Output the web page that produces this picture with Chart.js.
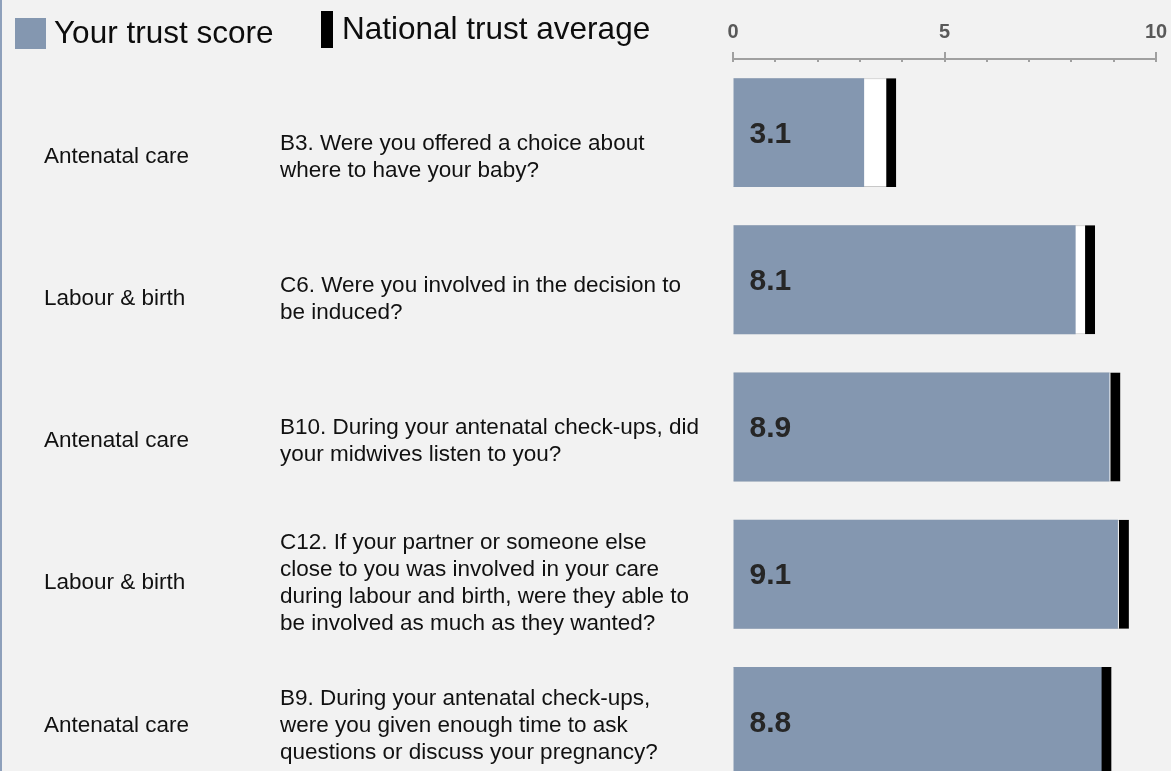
<!DOCTYPE html>
<html>
<head>
<meta charset="utf-8">
<title>Trust score vs national average</title>
<script src="https://cdn.jsdelivr.net/npm/chart.js@4.4.1/dist/chart.umd.min.js"></script>
<style>
    html, body {
        margin: 0;
        padding: 0;
        background: #f2f2f2;
        overflow: hidden;
    }
    body {
        width: 1171px;
        height: 771px;
        position: relative;
        font-family: "Liberation Sans", Arial, sans-serif;
    }
    #profitChart {
        position: absolute;
        left: 0;
        top: 0;
    }
    .edge {
        position: absolute;
        left: 0;
        top: 0;
        width: 2px;
        height: 771px;
        background: #8ea0bb;
    }
    .legend-swatch {
        position: absolute;
    }
    .legend-text {
        position: absolute;
        font-size: 31.5px;
        line-height: 1;
        color: #0d0d0d;
        white-space: nowrap;
    }
</style>
</head>
<body>
<canvas id="profitChart" width="1171" height="795"></canvas>
<div class="edge"></div>
<div class="legend-swatch" style="left:15px; top:18px; width:31px; height:31px; background:#8497b0;"></div>
<div class="legend-text" style="left:54px; top:17px;">Your trust score</div>
<div class="legend-swatch" style="left:321px; top:11px; width:12px; height:37px; background:#000;"></div>
<div class="legend-text" style="left:342px; top:13px;">National trust average</div>

<script>
const topics = ['Antenatal care', 'Labour & birth', 'Antenatal care', 'Labour & birth', 'Antenatal care'];
const questions = [
    ['B3. Were you offered a choice about', 'where to have your baby?'],
    ['C6. Were you involved in the decision to', 'be induced?'],
    ['B10. During your antenatal check-ups, did', 'your midwives listen to you?'],
    ['C12. If your partner or someone else', 'close to you was involved in your care', 'during labour and birth, were they able to', 'be involved as much as they wanted?'],
    ['B9. During your antenatal check-ups,', 'were you given enough time to ask', 'questions or discuss your pregnancy?']
];
const trustScore = [3.1, 8.1, 8.9, 9.1, 8.8];
const nationalAvg = [3.86, 8.56, 9.16, 9.36, 8.95];
const axisTicks = [0, 5, 10];

const BLUE = '#8497b0';
const textFont = { family: "'Liberation Sans', Arial, sans-serif", size: 22.5, lineHeight: 1.2 };

// text rows sit on a slightly tighter pitch than the bars
const textMin = -0.69;
const textMax = 4.49;

// little tick marks under/over the axis line
const axisMarks = {
    id: 'axisMarks',
    afterDraw(chart) {
        const scale = chart.scales.x;
        const ctx = chart.ctx;
        const y0 = scale.bottom;
        ctx.save();
        ctx.strokeStyle = '#a0a0a0';
        ctx.lineWidth = 2;
        for (let v = scale.min; v <= scale.max; v++) {
            const px = Math.round(scale.getPixelForValue(v));
            const major = axisTicks.includes(v);
            ctx.beginPath();
            ctx.moveTo(px, major ? y0 - 7 : y0);
            ctx.lineTo(px, y0 + 3);
            ctx.stroke();
        }
        ctx.restore();
    }
};

// score written inside each blue bar
const valueLabels = {
    id: 'valueLabels',
    afterDatasetsDraw(chart) {
        const meta = chart.getDatasetMeta(1);
        const ctx = chart.ctx;
        ctx.save();
        ctx.font = "bold 30px 'Liberation Sans', Arial, sans-serif";
        ctx.fillStyle = '#262626';
        ctx.textAlign = 'left';
        ctx.textBaseline = 'middle';
        meta.data.forEach((bar, i) => {
            ctx.fillText(trustScore[i].toFixed(1), bar.base + 16, bar.y + 2);
        });
        ctx.restore();
    }
};

function textAxis(labels, weight, width) {
    return {
        type: 'linear',
        position: 'left',
        weight: weight,
        reverse: true,
        offset: false,
        bounds: 'data',
        min: textMin,
        max: textMax,
        grid: { display: false },
        border: { display: false },
        afterBuildTicks: axis => {
            axis.ticks = labels.map((l, i) => ({ value: i }));
        },
        afterFit: axis => {
            axis.width = width;
            // labels sit well inside the area, no need to shrink it for them
            axis.paddingTop = 0;
            axis.paddingBottom = 0;
        },
        ticks: {
            autoSkip: false,
            crossAlign: 'far',
            padding: 0,
            color: '#111111',
            font: textFont,
            callback: value => labels[value]
        }
    };
}

const ctx = document.getElementById('profitChart');

new Chart(ctx, {
    type: 'bar',
    data: {
        labels: questions.map(q => q.join(' ')),
        datasets: [
            {
                label: 'National trust average (fill)',
                data: nationalAvg,
                backgroundColor: '#ffffff',
                borderColor: '#c8c8c8',
                borderWidth: { top: 1, bottom: 1, left: 0, right: 0 },
                borderSkipped: false,
                grouped: false,
                order: 3
            },
            {
                label: 'Your trust score',
                data: trustScore,
                backgroundColor: BLUE,
                borderWidth: 0,
                grouped: false,
                order: 2
            },
            {
                label: 'National trust average',
                data: nationalAvg,
                backgroundColor: 'rgba(0, 0, 0, 0)',
                borderColor: '#000000',
                borderWidth: { top: 0, bottom: 0, left: 0, right: 10 },
                borderSkipped: false,
                grouped: false,
                order: 1
            }
        ]
    },
    options: {
        indexAxis: 'y',
        responsive: false,
        animation: false,
        categoryPercentage: 1,
        barPercentage: 0.74,
        layout: {
            padding: { top: 13, left: 44, right: 15, bottom: 0 }
        },
        plugins: {
            legend: { display: false },
            tooltip: { enabled: false }
        },
        scales: {
            x: {
                type: 'linear',
                position: 'top',
                min: 0,
                max: 10,
                afterBuildTicks: axis => {
                    axis.ticks = axisTicks.map(v => ({ value: v }));
                },
                afterFit: axis => {
                    // the layout padding already leaves room for the "10"
                    axis.paddingLeft = 0;
                    axis.paddingRight = 0;
                },
                grid: {
                    display: true,
                    drawOnChartArea: false,
                    drawTicks: true,
                    tickLength: 8,
                    color: 'rgba(0, 0, 0, 0)'
                },
                border: {
                    display: true,
                    color: '#a0a0a0',
                    width: 2
                },
                ticks: {
                    padding: 7,
                    color: '#595959',
                    font: { family: "'Liberation Sans', Arial, sans-serif", size: 20, weight: 'bold' }
                }
            },
            y: {
                type: 'category',
                display: false,
                offset: true,
                weight: 0
            },
            yQuestion: textAxis(questions, 1, 453),
            yTopic: textAxis(topics, 2, 236)
        }
    },
    plugins: [axisMarks, valueLabels]
});
</script>
</body>
</html>
